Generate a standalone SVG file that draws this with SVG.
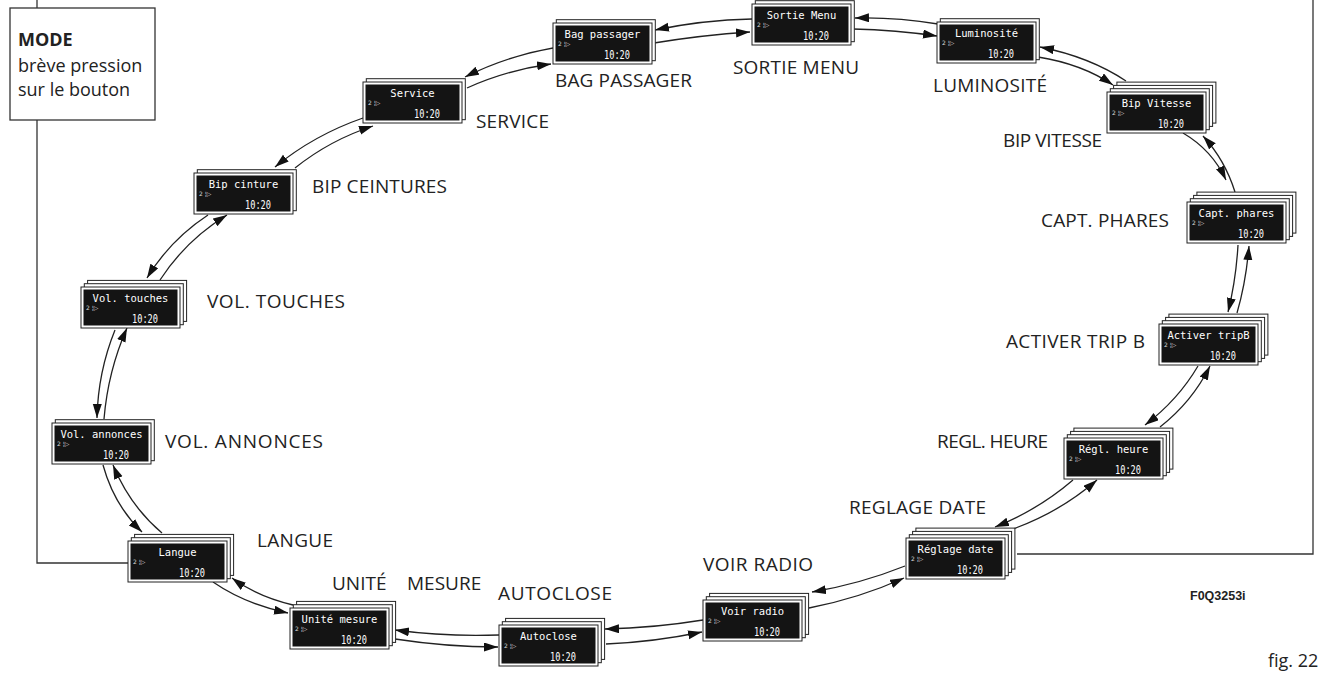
<svg xmlns="http://www.w3.org/2000/svg" xmlns:xlink="http://www.w3.org/1999/xlink" width="1327" height="673" viewBox="0 0 1327 673">
<style>
.sheet{fill:#fff;stroke:#222;stroke-width:1}
.scr{fill:#141414}
.t{font-family:"DejaVu Sans Mono",monospace;font-size:10.5px;fill:#fff;text-anchor:middle}
.s{font-family:"DejaVu Sans",sans-serif;font-size:6px;fill:#ddd}
.c{font-family:"DejaVu Sans Mono",monospace;font-size:13px;fill:#fff}
.lbl{font-family:"Open Sans","Liberation Sans",sans-serif;font-size:19px;fill:#222}
.mode{font-family:"Open Sans","Liberation Sans",sans-serif;font-size:18px;fill:#222}
.frame{fill:none;stroke:#333;stroke-width:1.3}
.cn{fill:none;stroke:#222;stroke-width:1.3;marker-end:url(#ah)}
</style>
<defs>
<marker id="ah" markerUnits="userSpaceOnUse" markerWidth="15" markerHeight="10" refX="14" refY="4.5" orient="auto">
<path d="M0,0 L14,4.5 L0,9 z" fill="#111"/>
</marker>
<rect id="sh" width="99" height="41" class="sheet"/>
<g id="disp"><rect width="99" height="41" class="sheet"/><rect x="2.5" y="2.5" width="94" height="36" class="scr"/></g>
</defs>
<rect width="1327" height="673" fill="#fff"/>

<g id="frame">
<path class="frame" d="M37,0 V8 M37,120 V563 H128 M1313,0 V554 H1017"/>
</g>

<g id="mode-box">
<rect x="10" y="8" width="145" height="112" fill="#fff" stroke="#333" stroke-width="1.3"/>
<text class="mode" x="18" y="46" font-weight="bold" font-size="20">MODE</text>
<text class="mode" x="18" y="72">brève pression</text>
<text class="mode" x="18" y="96">sur le bouton</text>
</g>

<g id="connectors">
<path class="cn" d="M752,19 Q703,20 655,30"/>
<path class="cn" d="M654,43 Q703,35 750,32"/>
<path class="cn" d="M938,24 Q896,17 855,18"/>
<path class="cn" d="M853,29 Q896,30 937,36"/>
<path class="cn" d="M1126,81 Q1090,57 1040,47"/>
<path class="cn" d="M1038,57 Q1082,64 1113,85"/>
<path class="cn" d="M1183,133 Q1212,150 1226,180"/>
<path class="cn" d="M1235,192 Q1225,160 1203,136"/>
<path class="cn" d="M1238,245 Q1236,280 1228,312"/>
<path class="cn" d="M1237,313 Q1246,282 1249,246"/>
<path class="cn" d="M1198,366 Q1178,400 1145,425"/>
<path class="cn" d="M1160,427 Q1192,402 1210,366"/>
<path class="cn" d="M1073,480 Q1038,510 995,527"/>
<path class="cn" d="M1013,529 Q1060,512 1097,480"/>
<path class="cn" d="M905,566 Q860,584 812,592"/>
<path class="cn" d="M809,608 Q860,598 904,578"/>
<path class="cn" d="M703,620 Q654,628 605,629"/>
<path class="cn" d="M606,644 Q654,642 702,632"/>
<path class="cn" d="M499,635 Q447,637 395,630"/>
<path class="cn" d="M395,639 Q447,647 498,647"/>
<path class="cn" d="M213,582 Q245,604 288,613"/>
<path class="cn" d="M293,605 Q258,597 232,578"/>
<path class="cn" d="M103,465 Q114,505 142,532"/>
<path class="cn" d="M162,533 Q130,506 113,465"/>
<path class="cn" d="M115,330 Q98,372 97,418"/>
<path class="cn" d="M104,419 Q108,371 127,328"/>
<path class="cn" d="M208,215 Q170,240 147,278"/>
<path class="cn" d="M160,280 Q186,240 227,215"/>
<path class="cn" d="M363,118 Q314,135 275,167"/>
<path class="cn" d="M295,168 Q330,140 373,126"/>
<path class="cn" d="M553,48 Q507,56 465,77"/>
<path class="cn" d="M467,88 Q507,70 551,64"/>
</g>

<g id="node-sortie-menu" transform="translate(752,4)">
<use href="#sh" x="3.3" y="-3.3"/><use href="#disp"/>
<text class="t" x="49.5" y="15">Sortie Menu</text><text class="s" x="5" y="23">2 ¦▷</text>
<text class="c" x="51" y="36" textLength="26" lengthAdjust="spacingAndGlyphs">10:20</text>
</g>
<g id="node-bag-passager" transform="translate(553,23)">
<use href="#sh" x="3.3" y="-3.3"/><use href="#disp"/>
<text class="t" x="49.5" y="15">Bag passager</text><text class="s" x="5" y="23">2 ¦▷</text>
<text class="c" x="51" y="36" textLength="26" lengthAdjust="spacingAndGlyphs">10:20</text>
</g>
<g id="node-luminosite" transform="translate(937,22)">
<use href="#sh" x="3.3" y="-3.3"/><use href="#disp"/>
<text class="t" x="49.5" y="15">Luminosité</text><text class="s" x="5" y="23">2 ¦▷</text>
<text class="c" x="51" y="36" textLength="26" lengthAdjust="spacingAndGlyphs">10:20</text>
</g>
<g id="node-bip-vitesse" transform="translate(1107,92)">
<use href="#sh" x="9.9" y="-9.9"/><use href="#sh" x="6.6" y="-6.6"/><use href="#sh" x="3.3" y="-3.3"/><use href="#disp"/>
<text class="t" x="49.5" y="15">Bip Vitesse</text><text class="s" x="5" y="23">2 ¦▷</text>
<text class="c" x="51" y="36" textLength="26" lengthAdjust="spacingAndGlyphs">10:20</text>
</g>
<g id="node-capt-phares" transform="translate(1187,202)">
<use href="#sh" x="9.9" y="-9.9"/><use href="#sh" x="6.6" y="-6.6"/><use href="#sh" x="3.3" y="-3.3"/><use href="#disp"/>
<text class="t" x="49.5" y="15">Capt. phares</text><text class="s" x="5" y="23">2 ¦▷</text>
<text class="c" x="51" y="36" textLength="26" lengthAdjust="spacingAndGlyphs">10:20</text>
</g>
<g id="node-activer-tripb" transform="translate(1159,324)">
<use href="#sh" x="9.9" y="-9.9"/><use href="#sh" x="6.6" y="-6.6"/><use href="#sh" x="3.3" y="-3.3"/><use href="#disp"/>
<text class="t" x="49.5" y="15">Activer tripB</text><text class="s" x="5" y="23">2 ¦▷</text>
<text class="c" x="51" y="36" textLength="26" lengthAdjust="spacingAndGlyphs">10:20</text>
</g>
<g id="node-regl-heure" transform="translate(1064,438)">
<use href="#sh" x="9.9" y="-9.9"/><use href="#sh" x="6.6" y="-6.6"/><use href="#sh" x="3.3" y="-3.3"/><use href="#disp"/>
<text class="t" x="49.5" y="15">Régl. heure</text><text class="s" x="5" y="23">2 ¦▷</text>
<text class="c" x="51" y="36" textLength="26" lengthAdjust="spacingAndGlyphs">10:20</text>
</g>
<g id="node-reglage-date" transform="translate(906,538)">
<use href="#sh" x="9.9" y="-9.9"/><use href="#sh" x="6.6" y="-6.6"/><use href="#sh" x="3.3" y="-3.3"/><use href="#disp"/>
<text class="t" x="49.5" y="15">Réglage date</text><text class="s" x="5" y="23">2 ¦▷</text>
<text class="c" x="51" y="36" textLength="26" lengthAdjust="spacingAndGlyphs">10:20</text>
</g>
<g id="node-voir-radio" transform="translate(703,600)">
<use href="#sh" x="6.6" y="-6.6"/><use href="#sh" x="3.3" y="-3.3"/><use href="#disp"/>
<text class="t" x="49.5" y="15">Voir radio</text><text class="s" x="5" y="23">2 ¦▷</text>
<text class="c" x="51" y="36" textLength="26" lengthAdjust="spacingAndGlyphs">10:20</text>
</g>
<g id="node-autoclose" transform="translate(499,625)">
<use href="#sh" x="6.6" y="-6.6"/><use href="#sh" x="3.3" y="-3.3"/><use href="#disp"/>
<text class="t" x="49.5" y="15">Autoclose</text><text class="s" x="5" y="23">2 ¦▷</text>
<text class="c" x="51" y="36" textLength="26" lengthAdjust="spacingAndGlyphs">10:20</text>
</g>
<g id="node-unite-mesure" transform="translate(290,608)">
<use href="#sh" x="6.6" y="-6.6"/><use href="#sh" x="3.3" y="-3.3"/><use href="#disp"/>
<text class="t" x="49.5" y="15">Unité mesure</text><text class="s" x="5" y="23">2 ¦▷</text>
<text class="c" x="51" y="36" textLength="26" lengthAdjust="spacingAndGlyphs">10:20</text>
</g>
<g id="node-langue" transform="translate(128,541)">
<use href="#sh" x="6.6" y="-6.6"/><use href="#sh" x="3.3" y="-3.3"/><use href="#disp"/>
<text class="t" x="49.5" y="15">Langue</text><text class="s" x="5" y="23">2 ¦▷</text>
<text class="c" x="51" y="36" textLength="26" lengthAdjust="spacingAndGlyphs">10:20</text>
</g>
<g id="node-vol-annonces" transform="translate(52,423)">
<use href="#sh" x="3.3" y="-3.3"/><use href="#disp"/>
<text class="t" x="49.5" y="15">Vol. annonces</text><text class="s" x="5" y="23">2 ¦▷</text>
<text class="c" x="51" y="36" textLength="26" lengthAdjust="spacingAndGlyphs">10:20</text>
</g>
<g id="node-vol-touches" transform="translate(81,287)">
<use href="#sh" x="6.6" y="-6.6"/><use href="#sh" x="3.3" y="-3.3"/><use href="#disp"/>
<text class="t" x="49.5" y="15">Vol. touches</text><text class="s" x="5" y="23">2 ¦▷</text>
<text class="c" x="51" y="36" textLength="26" lengthAdjust="spacingAndGlyphs">10:20</text>
</g>
<g id="node-bip-cinture" transform="translate(194,173)">
<use href="#sh" x="3.3" y="-3.3"/><use href="#disp"/>
<text class="t" x="49.5" y="15">Bip cinture</text><text class="s" x="5" y="23">2 ¦▷</text>
<text class="c" x="51" y="36" textLength="26" lengthAdjust="spacingAndGlyphs">10:20</text>
</g>
<g id="node-service" transform="translate(363,82)">
<use href="#sh" x="3.3" y="-3.3"/><use href="#disp"/>
<text class="t" x="49.5" y="15">Service</text><text class="s" x="5" y="23">2 ¦▷</text>
<text class="c" x="51" y="36" textLength="26" lengthAdjust="spacingAndGlyphs">10:20</text>
</g>

<g id="labels">
<text class="lbl" x="733" y="74" textLength="126" lengthAdjust="spacing">SORTIE MENU</text>
<text class="lbl" x="555" y="87" textLength="137" lengthAdjust="spacing">BAG PASSAGER</text>
<text class="lbl" x="933" y="92" textLength="114" lengthAdjust="spacing">LUMINOSITÉ</text>
<text class="lbl" x="1003" y="147" textLength="99" lengthAdjust="spacing">BIP VITESSE</text>
<text class="lbl" x="1041" y="227" textLength="128" lengthAdjust="spacing">CAPT. PHARES</text>
<text class="lbl" x="1006" y="348" textLength="139" lengthAdjust="spacing">ACTIVER TRIP B</text>
<text class="lbl" x="937" y="448" textLength="111" lengthAdjust="spacing">REGL. HEURE</text>
<text class="lbl" x="849" y="514" textLength="137" lengthAdjust="spacing">REGLAGE DATE</text>
<text class="lbl" x="703" y="571" textLength="110" lengthAdjust="spacing">VOIR RADIO</text>
<text class="lbl" x="498" y="600" textLength="114" lengthAdjust="spacing">AUTOCLOSE</text>
<text class="lbl" x="332" y="590">UNITÉ <tspan x="407">MESURE</tspan></text>
<text class="lbl" x="257" y="547" textLength="76" lengthAdjust="spacing">LANGUE</text>
<text class="lbl" x="165" y="448" textLength="158" lengthAdjust="spacing">VOL. ANNONCES</text>
<text class="lbl" x="207" y="308" textLength="138" lengthAdjust="spacing">VOL. TOUCHES</text>
<text class="lbl" x="312" y="193" textLength="135" lengthAdjust="spacing">BIP CEINTURES</text>
<text class="lbl" x="476" y="128" textLength="73" lengthAdjust="spacing">SERVICE</text>
<text x="1190" y="600" font-family="'Liberation Sans',Arial,sans-serif" font-weight="bold" font-size="12.5" fill="#222">F0Q3253i</text>
<text class="mode" x="1268" y="667" font-size="19">fig. 22</text>
</g>
</svg>
